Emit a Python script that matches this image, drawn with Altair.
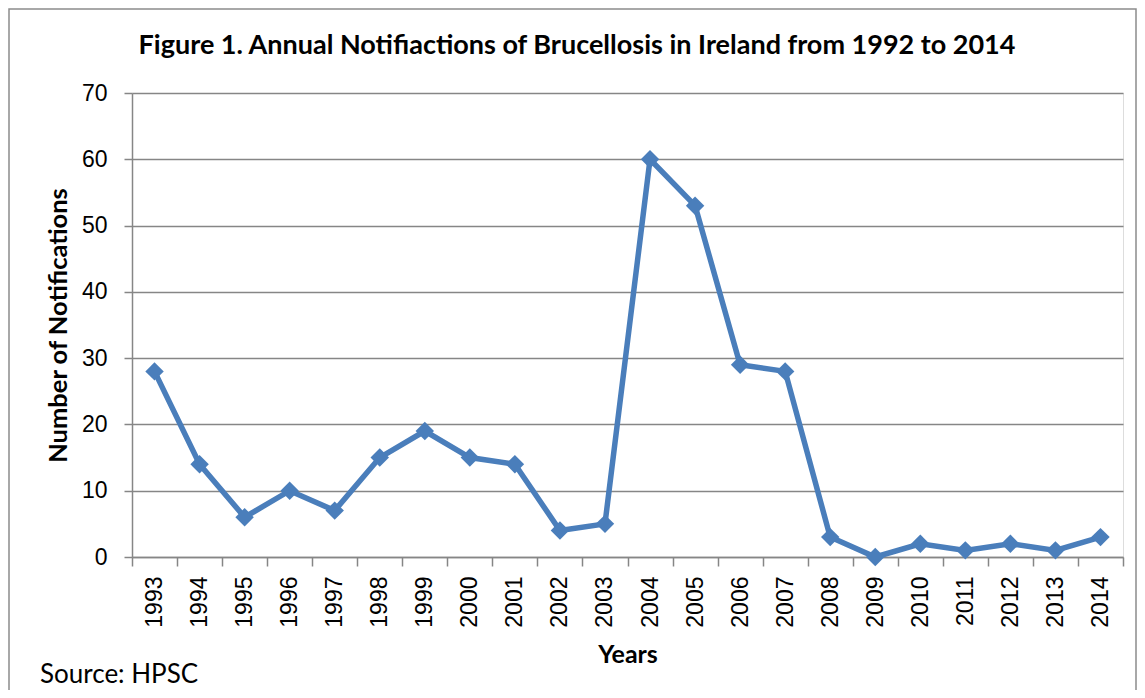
import altair as alt
import pandas as pd

years = ["1993", "1994", "1995", "1996", "1997", "1998", "1999", "2000", "2001",
         "2002", "2003", "2004", "2005", "2006", "2007", "2008", "2009", "2010",
         "2011", "2012", "2013", "2014"]
notifications = [28, 14, 6, 10, 7, 15, 19, 15, 14, 4, 5, 60, 53, 29, 28, 3, 0, 2, 1, 2, 1, 3]
y_ticks = [0, 10, 20, 30, 40, 50, 60, 70]
title_text = "Figure 1. Annual Notifiactions of Brucellosis in Ireland from 1992 to 2014"
source_text = "Source: HPSC"

df = pd.DataFrame({"Year": years, "Notifications": notifications})

W, H = 991, 464
PL, PT, PR, PB = 124, 85, 14, 133
GREY = "#868686"
BLUE = "#4A7EBB"

x_enc = alt.X("Year:N", sort=years, title="Years",
              scale=alt.Scale(type="band", paddingInner=0, paddingOuter=0),
              axis=alt.Axis(labelAngle=-90, labelFont="Liberation Sans", labelFontSize=23,
                            labelColor="black", labelPadding=10, labelBaseline="middle",
                            labelAlign="right",
                            tickBand="extent", tickSize=9, tickColor=GREY, domainColor=GREY,
                            domainWidth=1.5, tickWidth=1.5, grid=False,
                            titleFont="Lato", titleFontWeight="bold", titleFontSize=25,
                            titleColor="black", titleX=W / 2, titleY=97,
                            titleBaseline="middle"))
y_enc = alt.Y("Notifications:Q", title="Number of Notifications",
              scale=alt.Scale(domain=[0, 70], nice=False),
              axis=alt.Axis(values=y_ticks, labelFont="Liberation Sans", labelFontSize=23,
                            labelColor="black", labelPadding=17, tickSize=8,
                            tickColor=GREY, domainColor=GREY, gridColor=GREY,
                            domainWidth=1.5, tickWidth=1.5, gridWidth=1.5,
                            titleFont="Lato", titleFontWeight="bold", titleFontSize=25.5,
                            titleColor="black", titleAngle=-90, titleX=-74, titleY=H / 2,
                            titleBaseline="middle", titleAlign="center"))

base = alt.Chart(df).encode(x=x_enc, y=y_enc)
line = base.mark_line(color=BLUE, strokeWidth=5.5)
pts = base.mark_point(shape="diamond", filled=True, size=340, color=BLUE, opacity=1)

source = alt.Chart(pd.DataFrame({"t": [source_text]})).mark_text(
    font="Lato", fontSize=26, align="left", baseline="middle", color="black"
).encode(x=alt.value(40 - 8 - PL), y=alt.value(675 - 8 - PT), text="t:N")

title = alt.Chart(pd.DataFrame({"t": [title_text]})).mark_text(
    font="Lato", fontSize=27, fontWeight="bold", align="center", baseline="alphabetic",
    color="black"
).encode(x=alt.value(577 - 8 - PL), y=alt.value(54 - 8 - PT), text="t:N")

frame = alt.Chart(pd.DataFrame({"a": [0]})).mark_rect(
    fill=None, stroke="#8c8c8c", strokeWidth=1.5
).encode(x=alt.value(-PL + 1), x2=alt.value(W + PR - 1),
         y=alt.value(-PT + 1), y2=alt.value(H + PB + 20))

chart = alt.layer(frame, line, pts, source, title).properties(
    width=W, height=H,
    autosize=alt.AutoSizeParams(type="none"),
    padding={"left": PL, "top": PT, "right": PR, "bottom": PB},
).configure_view(stroke=None).configure(background="white")

chart.save("out.html", embed_options={"renderer": "svg", "actions": False})
